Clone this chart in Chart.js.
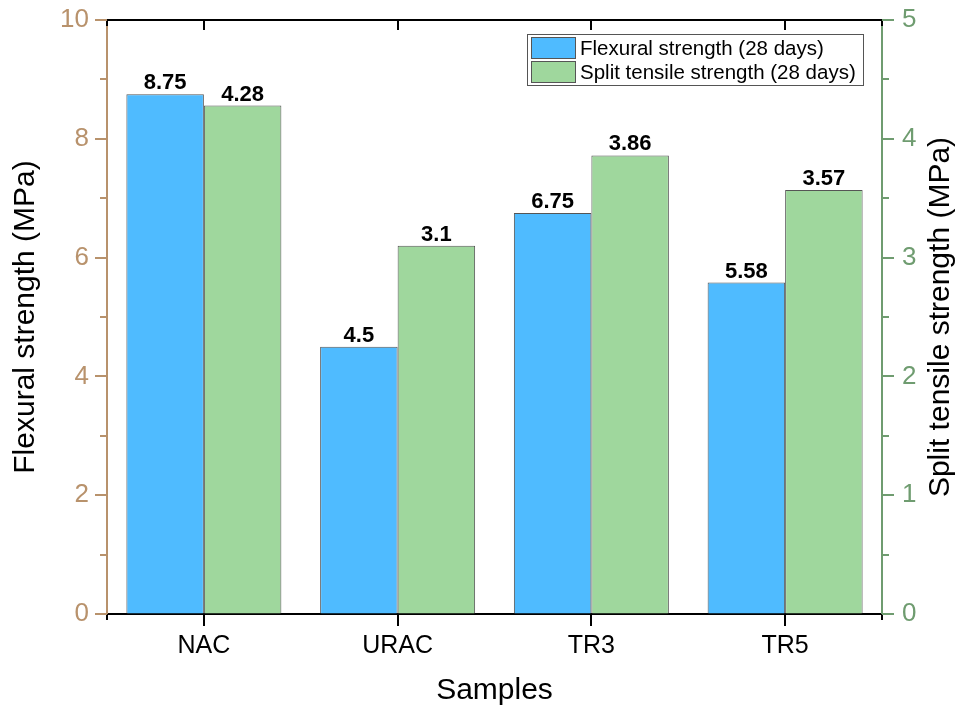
<!DOCTYPE html>
<html>
<head>
<meta charset="utf-8">
<script src="https://cdn.jsdelivr.net/npm/chart.js@4/dist/chart.umd.min.js"></script>
<style>
  html, body { margin: 0; padding: 0; background: #fff; }
  #wrap { width: 961px; height: 711px; }
</style>
</head>
<body>
<div id="wrap"><canvas id="c"></canvas></div>
<script>
const samples = ['NAC', 'URAC', 'TR3', 'TR5'];
const flexural = [8.75, 4.5, 6.75, 5.58];
const splitTensile = [4.28, 3.1, 3.86, 3.57];
const flexLabels = ['8.75', '4.5', '6.75', '5.58'];
const splitLabels = ['4.28', '3.1', '3.86', '3.57'];

const tan = '#b8926c';
const green = '#6f9c70';
const font = '"Liberation Sans", Arial, sans-serif';

// extra marks: top frame, axis ticks, bar value labels, legend, axis titles
const decor = {
    id: 'decor',
    afterDraw(chart) {
        const ctx = chart.ctx;
        const a = chart.chartArea;
        const x = chart.scales.x, yl = chart.scales.y, yr = chart.scales.y2;
        ctx.save();

        // top border
        ctx.fillStyle = '#000';
        ctx.fillRect(a.left - 1, a.top - 1, a.right - a.left + 2, 2);

        // top ticks at category centres, small ones at the frame corners
        samples.forEach((s, i) => {
            const px = Math.round(x.getPixelForValue(i));
            ctx.fillRect(px - 1, a.top, 2, 10);
        });
        [a.left, a.right].forEach(px => {
            ctx.fillRect(px - 1, a.top, 2, 6);
            ctx.fillRect(px - 1, a.bottom, 2, 6);
        });

        // y ticks, major and minor
        for (let v = 0; v <= 10; v++) {
            const len = v % 2 ? 7 : 12;
            const pl = Math.round(yl.getPixelForValue(v));
            ctx.fillStyle = tan;
            ctx.fillRect(a.left - len, pl - 1, len, 2);
            const pr = Math.round(yr.getPixelForValue(v / 2));
            ctx.fillStyle = green;
            ctx.fillRect(a.right, pr - 1, len, 2);
        }

        // value labels
        ctx.fillStyle = '#000';
        ctx.font = 'bold 22px ' + font;
        ctx.textAlign = 'center';
        ctx.textBaseline = 'alphabetic';
        [flexLabels, splitLabels].forEach((labels, d) => {
            chart.getDatasetMeta(d).data.forEach((bar, i) => {
                ctx.fillText(labels[i], bar.x, bar.y - 5);
            });
        });

        // legend
        const lx = 527, ly = 34, lw = 336, lh = 51;
        ctx.fillStyle = '#fff';
        ctx.fillRect(lx, ly, lw, lh);
        ctx.strokeStyle = '#555';
        ctx.lineWidth = 1;
        ctx.strokeRect(lx + 0.5, ly + 0.5, lw, lh);
        ctx.font = '20.5px ' + font;
        ctx.textAlign = 'left';
        ctx.textBaseline = 'middle';
        chart.data.datasets.forEach((ds, i) => {
            const ry = ly + 3 + i * 24;
            ctx.fillStyle = ds.backgroundColor;
            ctx.fillRect(lx + 4, ry, 44, 21);
            ctx.strokeStyle = '#555';
            ctx.strokeRect(lx + 4.5, ry + 0.5, 44, 21);
            ctx.fillStyle = '#000';
            ctx.fillText(ds.label, lx + 53, ry + 12);
        });

        // axis titles
        const midY = (a.top + a.bottom) / 2;
        ctx.font = '30px ' + font;
        ctx.textAlign = 'center';
        ctx.textBaseline = 'middle';
        ctx.fillStyle = '#000';
        ctx.save();
        ctx.translate(26, midY);
        ctx.rotate(-Math.PI / 2);
        ctx.fillText('Flexural strength (MPa)', 0, 0);
        ctx.restore();
        ctx.save();
        ctx.translate(941, midY);
        ctx.rotate(-Math.PI / 2);
        ctx.fillText('Split tensile strength (MPa)', 0, 0);
        ctx.restore();
        ctx.fillText('Samples', (a.left + a.right) / 2, 691);

        ctx.restore();
    }
};

function fixY(width) {
    return s => {
        s.width = width;
        s.paddingTop = 0;
        s.paddingBottom = 0;
    };
}

new Chart(document.getElementById('c'), {
    type: 'bar',
    data: {
        labels: samples,
        datasets: [{
            label: 'Flexural strength (28 days)',
            data: flexural,
            yAxisID: 'y',
            backgroundColor: '#4fbbff',
            borderColor: '#555',
            borderWidth: 1,
            categoryPercentage: 0.8,
            barPercentage: 1
        }, {
            label: 'Split tensile strength (28 days)',
            data: splitTensile,
            yAxisID: 'y2',
            backgroundColor: '#9fd79d',
            borderColor: '#555',
            borderWidth: 1,
            categoryPercentage: 0.8,
            barPercentage: 1
        }]
    },
    options: {
        responsive: true,
        maintainAspectRatio: false,
        animation: false,
        layout: { padding: { top: 20, left: 0, right: 0, bottom: 0 } },
        plugins: { legend: { display: false }, tooltip: { enabled: false } },
        scales: {
            x: {
                grid: { drawOnChartArea: false, offset: false, tickLength: 12, color: '#000', lineWidth: 2 },
                border: { color: '#000', width: 2 },
                ticks: { color: '#000', font: { family: font, size: 25 }, padding: 5 },
                afterFit: s => { s.height = 97; s.paddingLeft = 0; s.paddingRight = 0; }
            },
            y: {
                position: 'left',
                min: 0, max: 10,
                ticks: { stepSize: 2, color: tan, font: { family: font, size: 26 }, padding: 18 },
                grid: { drawOnChartArea: false, drawTicks: false },
                border: { color: tan, width: 2 },
                afterFit: fixY(107)
            },
            y2: {
                position: 'right',
                min: 0, max: 5,
                ticks: { stepSize: 1, color: green, font: { family: font, size: 26 }, padding: 20 },
                grid: { drawOnChartArea: false, drawTicks: false },
                border: { color: green, width: 2 },
                afterFit: fixY(79)
            }
        }
    },
    plugins: [decor]
});
</script>
</body>
</html>
